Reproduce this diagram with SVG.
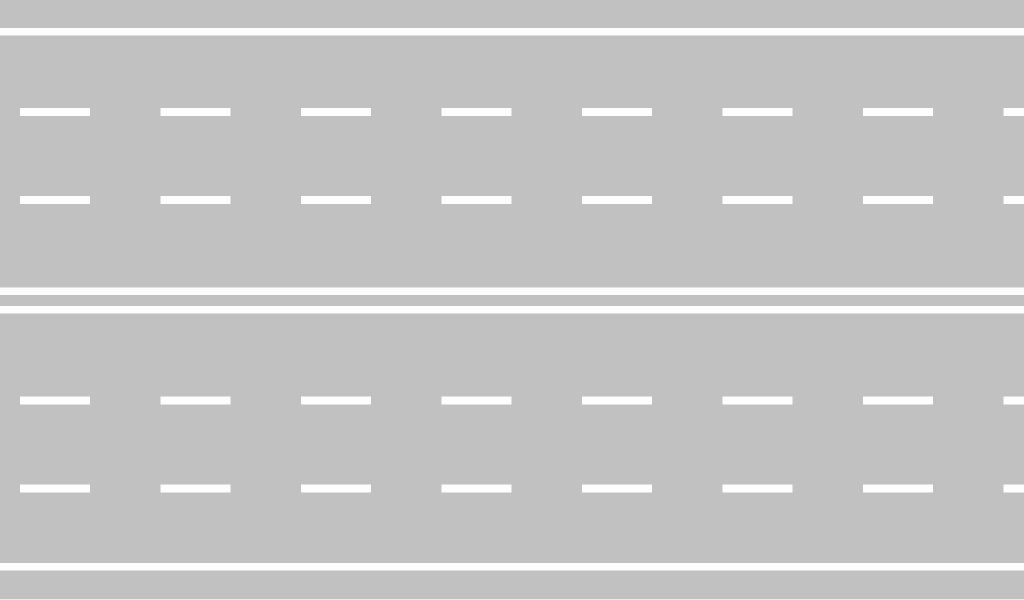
<svg xmlns="http://www.w3.org/2000/svg" width="1024" height="600" viewBox="0 0 1024 600">
<style>
.edge{stroke:#fdfdfd;stroke-width:7.5;fill:none}
.dash{stroke:#fdfdfd;stroke-width:8;fill:none;stroke-dasharray:70 70.5}
</style>
<rect x="0" y="0" width="1024" height="600" fill="#c1c1c1"/>
<g id="road-edges">
<line class="edge" x1="0" y1="31.75" x2="1024" y2="31.75"/>
<line class="edge" x1="0" y1="291.25" x2="1024" y2="291.25"/>
<line class="edge" x1="0" y1="309.75" x2="1024" y2="309.75"/>
<line class="edge" x1="0" y1="566.75" x2="1024" y2="566.75"/>
<rect x="0" y="599" width="1024" height="1" fill="#ececec"/>
</g>
<g id="lane-dashes">
<line class="dash" x1="20" y1="112" x2="1024" y2="112"/>
<line class="dash" x1="20" y1="200" x2="1024" y2="200"/>
<line class="dash" x1="20" y1="400.5" x2="1024" y2="400.5"/>
<line class="dash" x1="20" y1="488.5" x2="1024" y2="488.5"/>
</g>
</svg>
